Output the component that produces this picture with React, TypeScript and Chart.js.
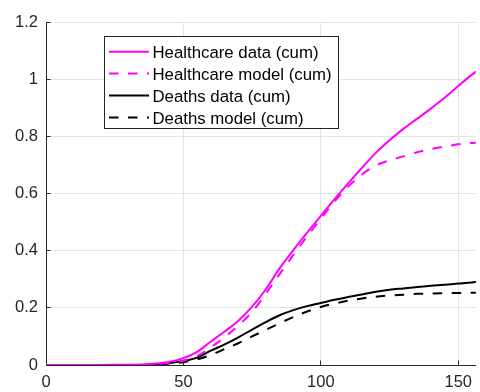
import { useEffect, useRef } from "react";
import { Chart, registerables } from "chart.js";

Chart.register(...registerables);

// Days since start
const days = [0, 5, 10, 15, 20, 25, 30, 35, 40, 45, 50, 55, 60, 65, 70, 75, 80, 85, 90, 95, 100, 105, 110, 115, 120, 125, 130, 135, 140, 145, 150, 155, 157];

// Cumulative healthcare load (observed)
const healthcareData = [0, 0, 0, 0, 0, 0.001, 0.001, 0.002, 0.005, 0.011, 0.024, 0.046, 0.082, 0.117, 0.155, 0.204, 0.265, 0.338, 0.402, 0.463, 0.522, 0.58, 0.636, 0.69, 0.742, 0.786, 0.826, 0.861, 0.897, 0.935, 0.976, 1.016, 1.03];

// Cumulative healthcare load (model)
const healthcareModel = [0, 0, 0, 0, 0, 0, 0, 0, 0.003, 0.008, 0.016, 0.031, 0.062, 0.097, 0.138, 0.186, 0.25, 0.318, 0.385, 0.45, 0.512, 0.572, 0.625, 0.667, 0.698, 0.716, 0.73, 0.744, 0.755, 0.764, 0.772, 0.777, 0.778];

// Cumulative deaths (observed)
const deathsData = [0, 0, 0, 0, 0, 0, 0, 0, 0.003, 0.007, 0.014, 0.026, 0.05, 0.072, 0.097, 0.124, 0.15, 0.174, 0.192, 0.206, 0.217, 0.228, 0.238, 0.247, 0.256, 0.263, 0.268, 0.273, 0.277, 0.281, 0.285, 0.289, 0.291];

// Cumulative deaths (model)
const deathsModel = [0, 0, 0, 0, 0, 0, 0, 0, 0.002, 0.005, 0.01, 0.02, 0.035, 0.056, 0.076, 0.1, 0.123, 0.146, 0.168, 0.187, 0.203, 0.215, 0.225, 0.233, 0.239, 0.243, 0.246, 0.249, 0.25, 0.251, 0.252, 0.253, 0.253];

const xTicks = [0, 50, 100, 150];
const seriesLabels = ["Healthcare data (cum)", "Healthcare model (cum)", "Deaths data (cum)", "Deaths model (cum)"];

const AXIS = "#262626";
const GRID = "#e3e3e3";
const FONT = '"Liberation Sans", Arial, sans-serif';
const FONT_SIZE = 16.5;
const LEGEND_FONT_SIZE = 16.8;
const DASH = [9.5, 9.5];

const toPoints = (vals: number[]) => days.map((d, i) => ({ x: d, y: vals[i] }));

// Short tick marks pointing into the plot area
const inwardTicks = {
  id: "inwardTicks",
  beforeDatasetsDraw(chart: any) {
    const { ctx, chartArea, scales } = chart;
    const len = 4.5;
    ctx.save();
    ctx.strokeStyle = AXIS;
    ctx.lineWidth = 1;
    ctx.beginPath();
    for (const t of scales.x.ticks) {
      const px = Math.round(scales.x.getPixelForValue(t.value) - 0.5) + 0.5;
      ctx.moveTo(px, chartArea.bottom);
      ctx.lineTo(px, chartArea.bottom - len);
    }
    for (const t of scales.y.ticks) {
      const py = Math.round(scales.y.getPixelForValue(t.value) - 0.5) + 0.5;
      ctx.moveTo(chartArea.left, py);
      ctx.lineTo(chartArea.left + len, py);
    }
    ctx.stroke();
    ctx.restore();
  },
};

// Boxed legend inside the upper-left of the plot
const boxedLegend = {
  id: "boxedLegend",
  afterDraw(chart: any) {
    const { ctx } = chart;
    const left = 104.5;
    const top = 36.5;
    const width = 234;
    const height = 92;
    ctx.save();
    ctx.fillStyle = "#ffffff";
    ctx.fillRect(left, top, width, height);
    ctx.strokeStyle = AXIS;
    ctx.lineWidth = 1;
    ctx.setLineDash([]);
    ctx.strokeRect(left, top, width, height);
    ctx.font = `${LEGEND_FONT_SIZE}px ${FONT}`;
    ctx.textAlign = "left";
    ctx.textBaseline = "alphabetic";
    chart.data.datasets.forEach((ds: any, i: number) => {
      const y = 51.7 + i * 21.9;
      ctx.beginPath();
      ctx.strokeStyle = ds.borderColor;
      ctx.lineWidth = ds.borderWidth;
      ctx.lineCap = "butt";
      ctx.setLineDash(ds.borderDash || []);
      ctx.moveTo(109, y);
      ctx.lineTo(149, y);
      ctx.stroke();
      ctx.setLineDash([]);
      ctx.fillStyle = "#000000";
      ctx.fillText(ds.label, 152.5, y + 6.3);
    });
    ctx.restore();
  },
};

export default function App() {
  const canvasRef = useRef<HTMLCanvasElement | null>(null);

  useEffect(() => {
    const canvas = canvasRef.current;
    if (!canvas) return;
    const line = (label: string, vals: number[], color: string, dashed: boolean) => ({
      label,
      data: toPoints(vals),
      borderColor: color,
      backgroundColor: color,
      borderWidth: 2,
      borderDash: dashed ? DASH : [],
      borderCapStyle: "butt" as const,
      pointRadius: 0,
      fill: false,
      cubicInterpolationMode: "monotone" as const,
    });

    const chart = new Chart(canvas, {
      type: "line",
      data: {
        datasets: [
          line(seriesLabels[0], healthcareData, "#ff00ff", false),
          line(seriesLabels[1], healthcareModel, "#ff00ff", true),
          line(seriesLabels[2], deathsData, "#000000", false),
          line(seriesLabels[3], deathsModel, "#000000", true),
        ],
      },
      options: {
        responsive: false,
        animation: false,
        layout: { padding: { top: 22, right: 0, left: 0, bottom: 0 } },
        plugins: {
          legend: { display: false },
          tooltip: { enabled: false },
        },
        scales: {
          x: {
            type: "linear",
            min: 0,
            max: 156.4,
            afterBuildTicks: (scale: any) => {
              scale.ticks = xTicks.map((v) => ({ value: v }));
            },
            afterFit: (scale: any) => {
              scale.height = 27;
            },
            grid: { color: GRID, drawTicks: false, lineWidth: 1 },
            border: { color: AXIS, width: 1 },
            ticks: {
              padding: 8,
              color: AXIS,
              font: { family: FONT, size: FONT_SIZE },
              maxRotation: 0,
              callback: (v: any) => String(v),
            },
          },
          y: {
            type: "linear",
            min: 0,
            max: 1.2,
            afterFit: (scale: any) => {
              scale.width = 46;
            },
            grid: { color: GRID, drawTicks: false, lineWidth: 1 },
            border: { color: AXIS, width: 1 },
            ticks: {
              stepSize: 0.2,
              padding: 8,
              color: AXIS,
              font: { family: FONT, size: FONT_SIZE },
              callback: (v: any) => String(Math.round(Number(v) * 10) / 10),
            },
          },
        },
      },
      plugins: [inwardTicks, boxedLegend],
    });
    return () => chart.destroy();
  }, []);

  return (
    <div style={{ position: "absolute", left: 0, top: 0, width: 480, height: 392, background: "#ffffff" }}>
      <canvas ref={canvasRef} width={480} height={392} style={{ display: "block" }} />
    </div>
  );
}
